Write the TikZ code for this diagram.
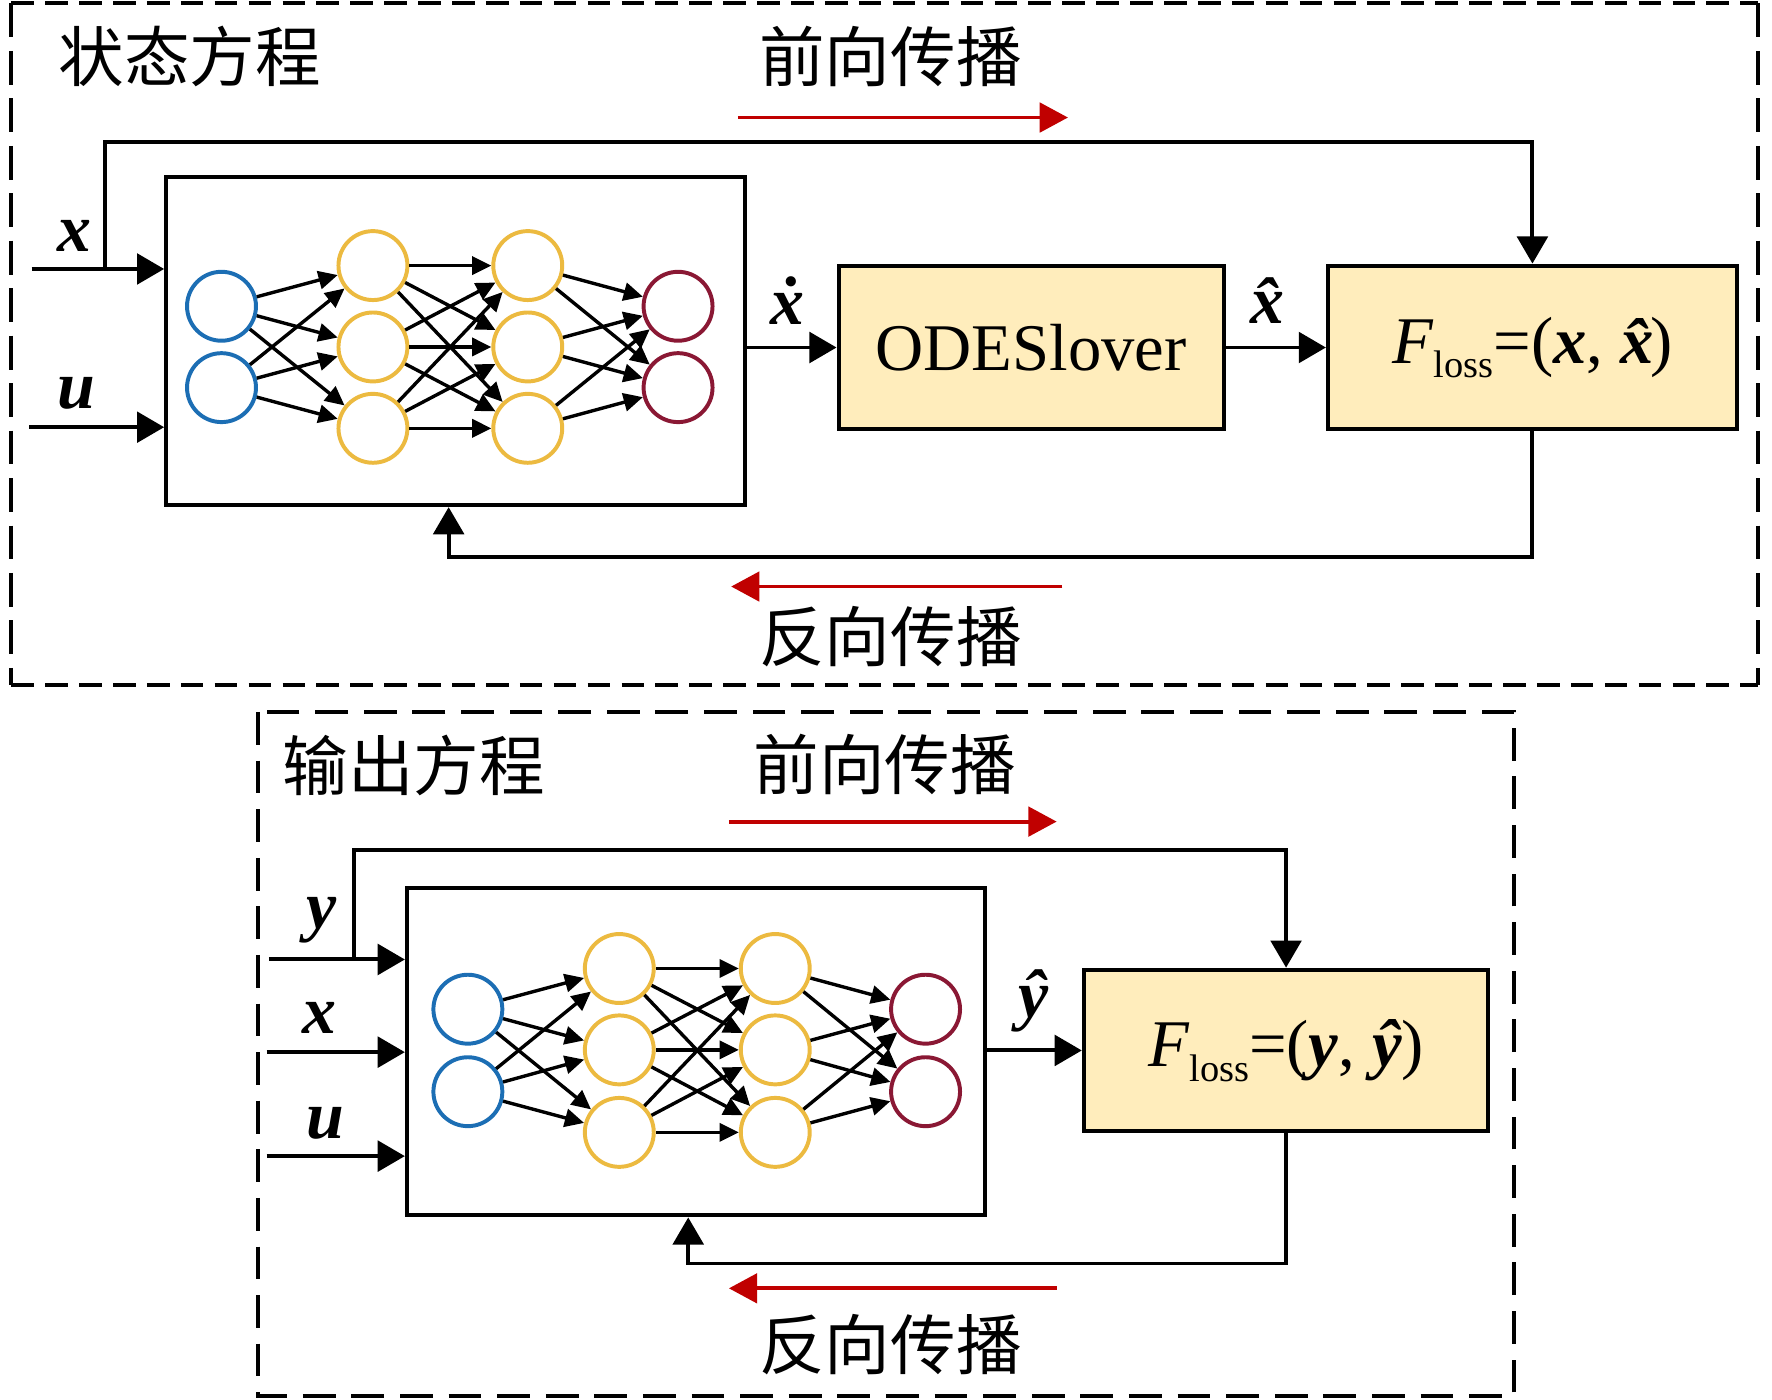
\documentclass[tikz,border=0pt]{standalone}
\usepackage{fontspec}
\setmainfont{Liberation Serif}
\newfontfamily\cjk{Noto Sans CJK SC}
\usetikzlibrary{arrows.meta,calc}
\definecolor{nnblue}{RGB}{28,110,180}
\definecolor{nnyellow}{RGB}{236,186,64}
\definecolor{nnred}{RGB}{138,24,52}
\definecolor{boxfill}{RGB}{255,237,188}
\definecolor{arrred}{RGB}{192,0,0}
\newcommand{\bi}[1]{\textbf{\textit{#1}}}
\newcommand{\myx}{\bi{x}}
\newcommand{\myu}{\bi{u}}
\newcommand{\myy}{\bi{y}}
\newcommand{\myxdot}{\bi{x\char"0307}}
\newcommand{\myxhat}{\bi{x\char"0302}}
\newcommand{\myyhat}{\bi{y\char"0302}}
\newcommand{\mysub}[1]{\raisebox{-6.5pt}{\fontsize{17pt}{18pt}\selectfont #1}}
\begin{document}
\begin{tikzpicture}[x=0.5pt,y=-0.5pt,
  neuron/.style={circle,draw,line width=1.75pt,minimum size=30.5pt,inner sep=0pt,fill=white},
  nnbox/.style={draw,line width=1.75pt,minimum width=256pt,minimum height=145pt,inner sep=0pt},
  fbox/.style={draw,line width=1.75pt,fill=boxfill,inner sep=0pt,minimum height=72.5pt,font=\fontsize{29.5pt}{32pt}\selectfont},
  conn/.style={line width=1.75pt,-{Triangle[length=12pt,width=13.5pt]}},
  nnedge/.style={line width=1.5pt,-{Triangle[length=8.5pt,width=8pt]}},
  redarr/.style={arrred,line width=1.7pt,-{Triangle[length=12.5pt,width=13pt]}},
  hframe/.style={line width=1.8pt,dash pattern=on 10pt off 5pt},
  vframe/.style={line width=1.8pt,dash pattern=on 15pt off 6pt},
  bframe/.style={line width=1.8pt,dash pattern=on 14.5pt off 7pt},
  cn/.style={font=\cjk\fontsize{29pt}{32pt}\selectfont,inner sep=0pt},
  lab/.style={font=\fontsize{30pt}{32pt}\selectfont,inner sep=0pt}]
\useasboundingbox (0,0) rectangle (1568,1238);

% ===== top group =====
\coordinate (fA1) at (10,3);
\coordinate (fA2) at (1556,3);
\coordinate (fA3) at (1556,606);
\coordinate (fA4) at (10,606);
\draw[hframe] (fA1) -- (fA2);
\draw[hframe] (fA4) -- (fA3);
\draw[vframe] (fA1) -- (fA4);
\draw[vframe] (fA2) -- (fA3);
\node[cn] (titleA) at (168,50) {状态方程};
\node[cn] (fwdA) at (788,50) {前向传播};
\coordinate (rfA1) at (653,104);
\coordinate (rfA2) at (945,104);
\draw[redarr] (rfA1) -- (rfA2);

\node[nnbox] (nnA) at (403,302) {};
\node[neuron,draw=nnblue] (Ai1) at (196,271) {};
\node[neuron,draw=nnblue] (Ai2) at (196,343) {};
\node[neuron,draw=nnyellow] (Aa1) at (330,235) {};
\node[neuron,draw=nnyellow] (Aa2) at (330,307) {};
\node[neuron,draw=nnyellow] (Aa3) at (330,379) {};
\node[neuron,draw=nnyellow] (Ab1) at (467,235) {};
\node[neuron,draw=nnyellow] (Ab2) at (467,307) {};
\node[neuron,draw=nnyellow] (Ab3) at (467,379) {};
\node[neuron,draw=nnred] (Ao1) at (600,271) {};
\node[neuron,draw=nnred] (Ao2) at (600,343) {};
\foreach \s in {i1,i2} \foreach \t in {a1,a2,a3} \draw[nnedge] (A\s) -- (A\t);
\foreach \s in {a1,a2,a3} \foreach \t in {b1,b2,b3} \draw[nnedge] (A\s) -- (A\t);
\foreach \s in {b1,b2,b3} \foreach \t in {o1,o2} \draw[nnedge] (A\s) -- (A\t);

\node[fbox,minimum width=170.5pt] (odeA) at (912.5,307.5) {ODESlover};
\node[fbox,minimum width=181pt] (lossA) at (1356,307.5) {\textit{F}\mysub{loss}=(\myx, \myxhat\kern-0.28em)};

\coordinate (xinA) at (28,238);
\coordinate (xsA) at (93,238);
\coordinate (uinA) at (26,378);
\draw[conn] (xinA) -- (xinA -| nnA.west);
\draw[conn] (uinA) -- (uinA -| nnA.west);
\draw[conn] (xsA) -- ++(0,-112) -| (lossA.north);
\node[lab] (xlabA) at (66,209) {\myx};
\node[lab] (ulabA) at (68,348) {\myu};

\draw[conn] (nnA.east |- odeA.west) -- (odeA.west);
\node[lab] (xdotA) at (697,266) {\myxdot};
\draw[conn] (odeA.east) -- (lossA.west);
\node[lab] (xhatA) at (1128,266) {\myxhat};

\coordinate (fbA) at (397,493);
\draw[conn] (lossA.south) |- (fbA) -- (fbA |- nnA.south);
\coordinate (rbA1) at (940,519);
\coordinate (rbA2) at (647,519);
\draw[redarr] (rbA1) -- (rbA2);
\node[cn] (bwdA) at (788,563) {反向传播};

% ===== bottom group =====
\draw[bframe] (228,630) rectangle (1340,1235);
\node[cn] (titleB) at (366,677) {输出方程};
\node[cn] (fwdB) at (783,676) {前向传播};
\coordinate (rfB1) at (645,727);
\coordinate (rfB2) at (935,727);
\draw[redarr] (rfB1) -- (rfB2);

\node[nnbox] (nnB) at (616,930.5) {};
\node[neuron,draw=nnblue] (Bi1) at (414,893) {};
\node[neuron,draw=nnblue] (Bi2) at (414,966) {};
\node[neuron,draw=nnyellow] (Ba1) at (548,857) {};
\node[neuron,draw=nnyellow] (Ba2) at (548,929) {};
\node[neuron,draw=nnyellow] (Ba3) at (548,1002) {};
\node[neuron,draw=nnyellow] (Bb1) at (686,857) {};
\node[neuron,draw=nnyellow] (Bb2) at (686,929) {};
\node[neuron,draw=nnyellow] (Bb3) at (686,1002) {};
\node[neuron,draw=nnred] (Bo1) at (819,893) {};
\node[neuron,draw=nnred] (Bo2) at (819,966) {};
\foreach \s in {i1,i2} \foreach \t in {a1,a2,a3} \draw[nnedge] (B\s) -- (B\t);
\foreach \s in {a1,a2,a3} \foreach \t in {b1,b2,b3} \draw[nnedge] (B\s) -- (B\t);
\foreach \s in {b1,b2,b3} \foreach \t in {o1,o2} \draw[nnedge] (B\s) -- (B\t);

\node[fbox,minimum width=179pt,minimum height=71.5pt] (lossB) at (1138,929.5) {\textit{F}\mysub{loss}=(\myy, \myyhat)};

\coordinate (yinB) at (238,849);
\coordinate (ysB) at (313,849);
\coordinate (xinB) at (236,931);
\coordinate (uinB) at (236,1023);
\draw[conn] (yinB) -- (yinB -| nnB.west);
\draw[conn] (xinB) -- (xinB -| nnB.west);
\draw[conn] (uinB) -- (uinB -| nnB.west);
\draw[conn] (ysB) -- ++(0,-97) -| (lossB.north);
\node[lab] (ylabB) at (285,814) {\myy};
\node[lab] (xlabB) at (283,901) {\myx};
\node[lab] (ulabB) at (288,994) {\myu};

\draw[conn] (nnB.east |- lossB.west) -- (lossB.west);
\node[lab] (yhatB) at (915,886) {\myyhat};

\coordinate (fbB) at (609,1118);
\draw[conn] (lossB.south) |- (fbB) -- (fbB |- nnB.south);
\coordinate (rbB1) at (935,1140);
\coordinate (rbB2) at (645,1140);
\draw[redarr] (rbB1) -- (rbB2);
\node[cn] (bwdB) at (788,1190) {反向传播};
\end{tikzpicture}
\end{document}
